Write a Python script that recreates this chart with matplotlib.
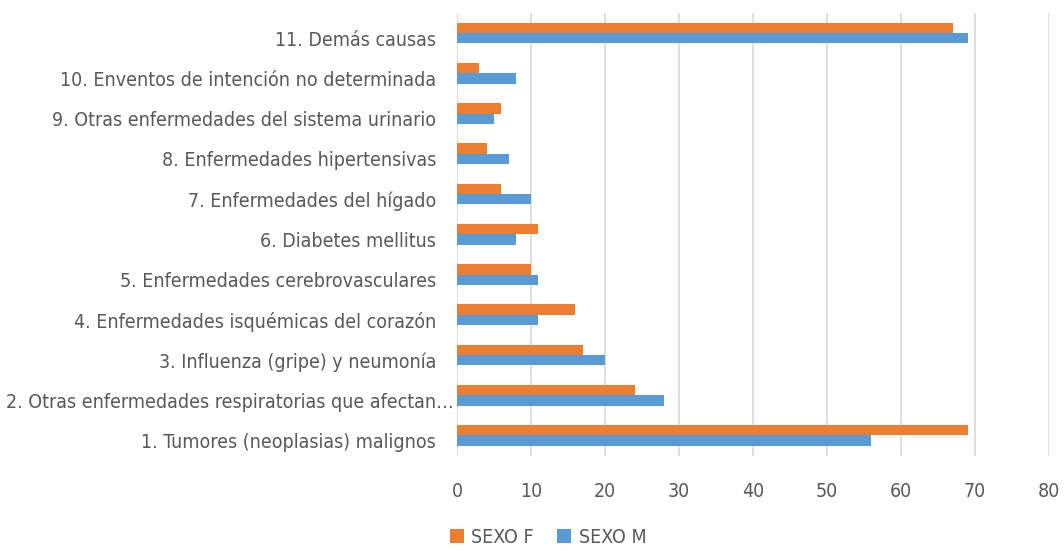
import numpy as np
import matplotlib
matplotlib.use("Agg")
import matplotlib.pyplot as plt
import matplotlib.transforms as mtransforms
from matplotlib import font_manager

causas = [
    "1. Tumores (neoplasias) malignos",
    "2. Otras enfermedades respiratorias que afectan…",
    "3. Influenza (gripe) y neumonía",
    "4. Enfermedades isquémicas del corazón",
    "5. Enfermedades cerebrovasculares",
    "6. Diabetes mellitus",
    "7. Enfermedades del hígado",
    "8. Enfermedades hipertensivas",
    "9. Otras enfermedades del sistema urinario",
    "10. Enventos de intención no determinada",
    "11. Demás causas",
]
sexo_f = [69, 24, 17, 16, 10, 11, 6, 4, 6, 3, 67]
sexo_m = [56, 28, 20, 11, 11, 8, 10, 7, 5, 8, 69]

# look for a narrow / condensed face, the original uses one
narrow = None
for f in font_manager.fontManager.ttflist:
    n = f.name.lower()
    if ('narrow' in n or 'condensed' in n or str(f.stretch) in ('condensed', 'semi-condensed', '75', '87')) \
            and f.style == 'normal' and f.weight in (400, 'normal', 'regular'):
        narrow = f
        break

if narrow is not None:
    plt.rcParams['font.family'] = [narrow.name, 'DejaVu Sans']
    plt.rcParams['font.stretch'] = narrow.stretch
    fs = 14
else:
    plt.rcParams['font.family'] = ['DejaVu Sans']
    fs = 12

fig = plt.figure(figsize=(10.64, 5.51), dpi=100)
ax = fig.add_axes([0.4295, 0.1731, 0.5565, 0.8035])

y = np.arange(len(causas))
h = 0.26
ax.barh(y + h / 2, sexo_f, height=h, color='#ED7D31', label='SEXO F', zorder=3)
ax.barh(y - h / 2, sexo_m, height=h, color='#5B9BD5', label='SEXO M', zorder=3)

ax.set_xlim(0, 80)
ax.set_ylim(-0.5, len(causas) - 0.5)
ax.set_xticks(range(0, 81, 10))
ax.set_yticks(y)
ax.set_yticklabels(causas)
ax.tick_params(axis='both', length=0, colors='#595959', labelsize=fs)
ax.tick_params(axis='x', pad=19)
ax.tick_params(axis='y', pad=15)
ax.grid(axis='x', color='#d9d9d9', linewidth=1.2, zorder=0)
for s in ax.spines.values():
    s.set_visible(False)

# labels sit a little below the bar pair; the truncated one runs up to the axis
for i, lab in enumerate(ax.get_yticklabels()):
    dx = 0.18 if i == 1 else 0
    lab.set_transform(lab.get_transform() +
                      mtransforms.ScaledTranslation(dx, -0.05, fig.dpi_scale_trans))

ax.legend(loc='lower center', bbox_to_anchor=(0.154, -0.245), ncol=2, frameon=False,
          fontsize=fs, handlelength=0.7, handleheight=0.7, columnspacing=1.2,
          handletextpad=0.4, labelcolor='#595959')

fig.savefig('out.png', dpi=100)
